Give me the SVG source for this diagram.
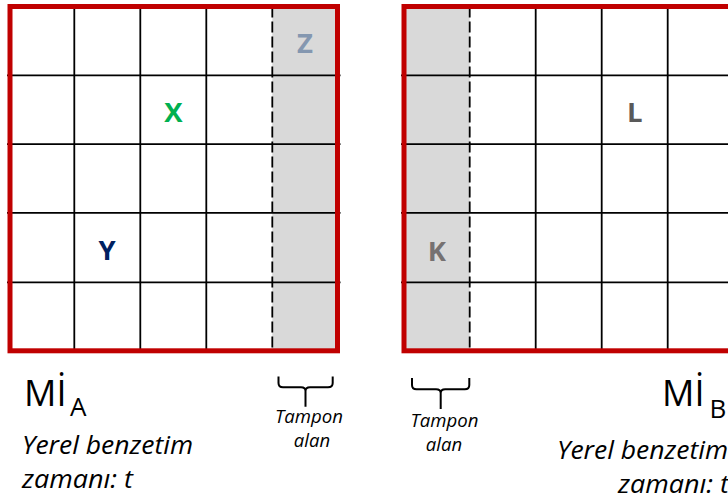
<svg xmlns="http://www.w3.org/2000/svg" width="728" height="502" viewBox="0 0 728 502">
<style>
.bg{fill:#ffffff}
.buf{fill:#d9d9d9;stroke:none}
.ln{stroke:#000000;stroke-width:1.8;fill:none}
.dash{stroke:#000000;stroke-width:1.8;fill:none;stroke-dasharray:11 4}
.frame{fill:none;stroke:#c00000;stroke-width:5}
.lbl{font-family:"Open Sans","Liberation Sans",sans-serif;font-weight:bold;font-size:27.5px;text-anchor:middle}
.big{font-family:"Open Sans","Liberation Sans",sans-serif;font-size:36px;fill:#000}
.sub{font-size:26px}
.it{font-family:"Open Sans","Liberation Sans",sans-serif;font-style:italic;font-size:25px;fill:#000}
.tp{font-family:"Open Sans","Liberation Sans",sans-serif;font-style:italic;font-size:18.5px;fill:#000;text-anchor:middle}
.br{fill:none;stroke:#000;stroke-width:2;stroke-linejoin:round}
</style>
<rect class="bg" x="0" y="0" width="728" height="502"/>
<g id="panelA">
  <rect class="buf" x="272.3" y="6.5" width="65.2" height="344.3"/>
  <g>
    <line class="ln" x1="7" y1="75.3" x2="340.5" y2="75.3"/>
    <line class="ln" x1="7" y1="144.2" x2="340.5" y2="144.2"/>
    <line class="ln" x1="7" y1="212.9" x2="340.5" y2="212.9"/>
    <line class="ln" x1="7" y1="282.3" x2="340.5" y2="282.3"/>
    <line class="ln" x1="74.3" y1="6.5" x2="74.3" y2="350.8"/>
    <line class="ln" x1="140.3" y1="6.5" x2="140.3" y2="350.8"/>
    <line class="ln" x1="206.3" y1="6.5" x2="206.3" y2="350.8"/>
    <line class="dash" x1="272.3" y1="6.5" x2="272.3" y2="350.8"/>
  </g>
  <rect class="frame" x="10" y="6.5" width="327.5" height="344.3"/>
  <text class="lbl" x="305" y="53.3" fill="#8497b0">Z</text>
  <text class="lbl" x="173.3" y="121.7" fill="#00b050">X</text>
  <text class="lbl" x="107" y="260" fill="#002060">Y</text>
</g>
<g id="panelB">
  <rect class="buf" x="404" y="6.5" width="65.7" height="344.3"/>
  <g>
    <line class="ln" x1="401" y1="75.3" x2="740" y2="75.3"/>
    <line class="ln" x1="401" y1="144.2" x2="740" y2="144.2"/>
    <line class="ln" x1="401" y1="212.9" x2="740" y2="212.9"/>
    <line class="ln" x1="401" y1="282.3" x2="740" y2="282.3"/>
    <line class="dash" x1="469.7" y1="6.5" x2="469.7" y2="350.8"/>
    <line class="ln" x1="535.7" y1="6.5" x2="535.7" y2="350.8"/>
    <line class="ln" x1="601.7" y1="6.5" x2="601.7" y2="350.8"/>
    <line class="ln" x1="667.7" y1="6.5" x2="667.7" y2="350.8"/>
  </g>
  <rect class="frame" x="404" y="6.5" width="340" height="344.3"/>
  <text class="lbl" x="437" y="260.5" fill="#767171">K</text>
  <text class="lbl" x="634.8" y="122" fill="#595959">L</text>
</g>
<g id="labelA">
  <text class="big" x="24" y="405.7">Mİ<tspan class="sub" x="70" y="415.7">A</tspan></text>
  <text class="it" x="22" y="454" textLength="171" lengthAdjust="spacingAndGlyphs">Yerel benzetim</text>
  <text class="it" x="22" y="488" textLength="111" lengthAdjust="spacingAndGlyphs">zamanı: t</text>
</g>
<g id="labelB">
  <text class="big" x="662" y="405.7">Mİ<tspan class="sub" x="709.5" y="417.7">B</tspan></text>
  <text class="it" x="557" y="459" textLength="171" lengthAdjust="spacingAndGlyphs">Yerel benzetim</text>
  <text class="it" x="618" y="493" textLength="111" lengthAdjust="spacingAndGlyphs">zamanı: t</text>
</g>
<g id="bufferA">
  <path class="br" d="M278.5,376.5 V383 Q278.5,387.3 283,387.3 H301 Q305.5,387.3 305.5,391 V406.7 M305.5,391 Q305.5,387.3 310,387.3 H328 Q332.7,387.3 332.7,383 V376.5"/>
  <text class="tp" x="309" y="422.5" textLength="68" lengthAdjust="spacingAndGlyphs">Tampon</text>
  <text class="tp" x="312" y="446.5">alan</text>
</g>
<g id="bufferB">
  <path class="br" d="M412,378 V385 Q412,389.3 416.5,389.3 H436 Q440.7,389.3 440.7,393 V409 M440.7,393 Q440.7,389.3 445.2,389.3 H464.8 Q469.3,389.3 469.3,385 V378"/>
  <text class="tp" x="444.5" y="426.5" textLength="68" lengthAdjust="spacingAndGlyphs">Tampon</text>
  <text class="tp" x="444" y="451">alan</text>
</g>
</svg>
